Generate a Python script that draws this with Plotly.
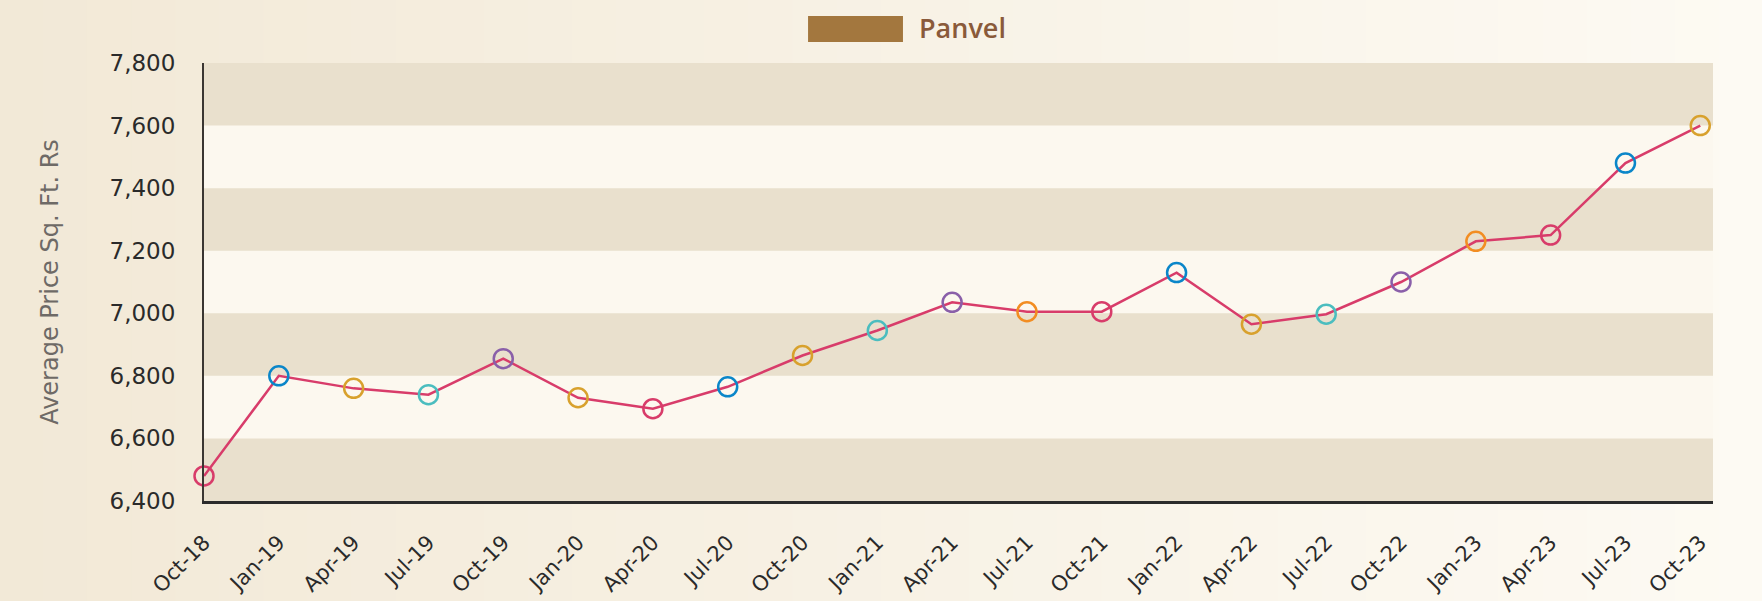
import plotly.graph_objects as go

months = ["Oct-18", "Jan-19", "Apr-19", "Jul-19", "Oct-19", "Jan-20", "Apr-20", "Jul-20",
          "Oct-20", "Jan-21", "Apr-21", "Jul-21", "Oct-21", "Jan-22", "Apr-22", "Jul-22",
          "Oct-22", "Jan-23", "Apr-23", "Jul-23", "Oct-23"]
prices = [6480, 6800, 6760, 6740, 6855, 6730, 6695, 6765, 6865, 6945, 7035, 7005,
          7005, 7130, 6965, 6997, 7100, 7230, 7250, 7480, 7600]
marker_colors = ["#d83c6a", "#0a86c9", "#d8a12d", "#4bbdbf", "#8a5fa9", "#d8a12d", "#d83c6a",
                 "#0a86c9", "#d8a12d", "#4bbdbf", "#8a5fa9", "#f28d22", "#d83c6a", "#0a86c9",
                 "#d8a12d", "#4bbdbf", "#8a5fa9", "#f28d22", "#d83c6a", "#0a86c9", "#d8a12d"]
y_ticks = [6400, 6600, 6800, 7000, 7200, 7400, 7600, 7800]
series_name = "Panvel"

FONT = "'DejaVu Sans', sans-serif"
LEG_FONT = "'Open Sans', sans-serif"

fig = go.Figure()
fig.add_trace(go.Scatter(
    x=list(range(len(months))), y=prices, mode="lines+markers", name=series_name,
    line=dict(color="#d83c6a", width=2.5),
    marker=dict(symbol="circle-open", size=19, color=marker_colors,
                line=dict(width=2.5, color=marker_colors)),
    cliponaxis=False, showlegend=False,
))

shapes = []
# page gradient background (left darker cream to right lighter)
n = 40
x0p, x1p = -0.136, 1.033
c_left = (242, 233, 215)
c_right = (253, 250, 243)
for i in range(n):
    t = i / (n - 1)
    c = tuple(int(round(c_left[k] + (c_right[k] - c_left[k]) * t)) for k in range(3))
    shapes.append(dict(type="rect", xref="paper", yref="paper",
                       x0=x0p + (x1p - x0p) * i / n, x1=x0p + (x1p - x0p) * (i + 1) / n + 0.002,
                       y0=-0.3, y1=1.2, fillcolor="rgb(%d,%d,%d)" % c, line=dict(width=0),
                       layer="below"))
# plot background light
shapes.append(dict(type="rect", xref="paper", yref="paper", x0=0, x1=1, y0=0, y1=1,
                   fillcolor="#fcf8ef", line=dict(width=0), layer="below"))
# alternating dark bands from tick values
for i in range(0, len(y_ticks) - 1, 2):
    shapes.append(dict(type="rect", xref="paper", yref="y", x0=0, x1=1,
                       y0=y_ticks[i], y1=y_ticks[i + 1], fillcolor="#e9e0cd",
                       line=dict(width=0), layer="below"))
# legend swatch
shapes.append(dict(type="rect", xref="paper", yref="paper", x0=0.4003, x1=0.4632,
                   y0=1.0479, y1=1.1073, fillcolor="#a3773e", line=dict(width=0)))

fig.update_layout(
    width=1762, height=601,
    margin=dict(l=204, r=49, t=63, b=100),
    paper_bgcolor="#f8f3e7", plot_bgcolor="rgba(0,0,0,0)",
    shapes=shapes,
    font=dict(family=FONT, color="#2a2a2a"),
    annotations=[dict(text=series_name, xref="paper", yref="paper",
                      x=0.4725, y=1.081, xanchor="left", yanchor="middle", showarrow=False,
                      font=dict(size=27, color="#8a5a3a", family=LEG_FONT, weight=600))],
    xaxis=dict(
        tickmode="array", tickvals=list(range(len(months))), ticktext=months,
        range=[0, 20.17], tickangle=-45, showgrid=False, zeroline=False,
        showline=True, linecolor="#2b2b2b", linewidth=3, automargin=False,
        ticks="", ticklabelstandoff=18,
        tickfont=dict(size=21, color="#2a2a2a", family=FONT),
    ),
    yaxis=dict(
        range=[6400, 7800], tickvals=y_ticks, tickformat=",d", automargin=False,
        showgrid=False, zeroline=False, showline=True, linecolor="#3a3632", linewidth=2,
        ticks="", ticklabelstandoff=22,
        tickfont=dict(size=23, color="#2a2a2a", family=FONT),
        title=dict(text="Average Price Sq. Ft. Rs", standoff=44,
                   font=dict(size=24, color="#6e6a66", family=FONT)),
    ),
)

fig.write_html("out.html", config={"displayModeBar": False},
               post_script="document.body.style.margin='0px';document.body.style.padding='0px';"
                           "document.body.style.overflow='hidden';")
